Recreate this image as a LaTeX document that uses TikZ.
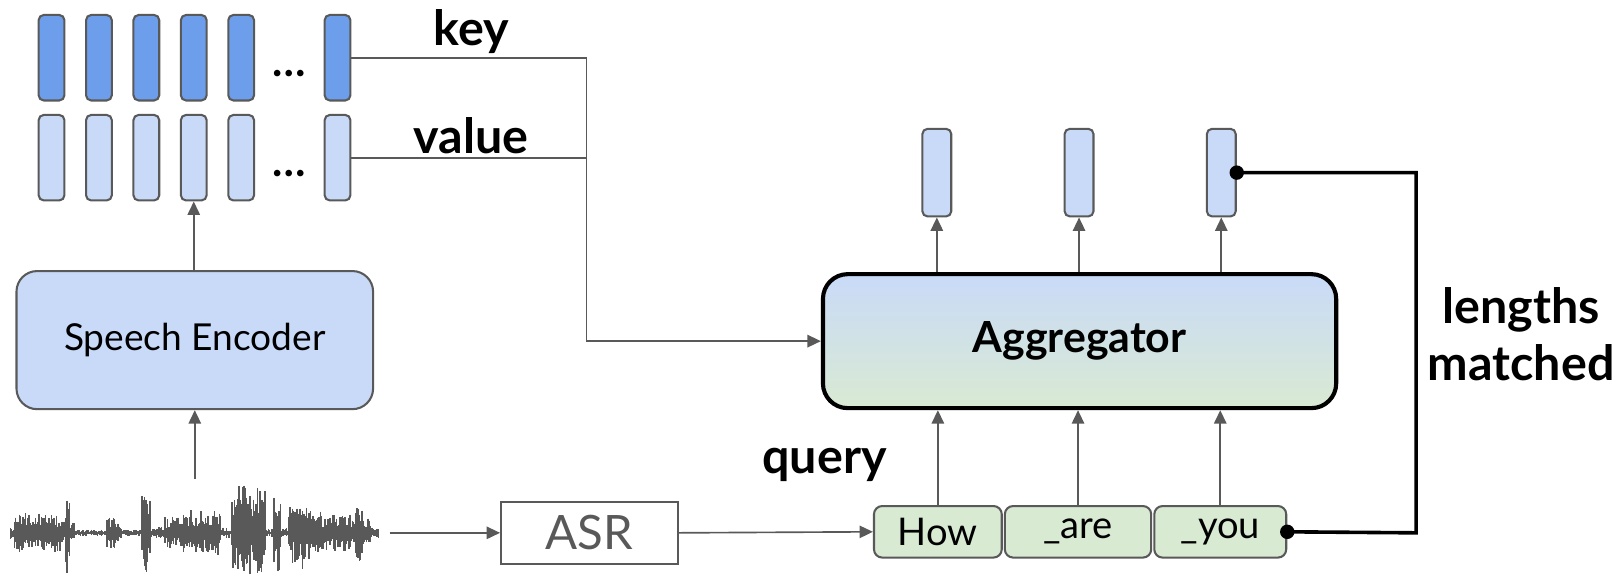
\documentclass[tikz,border=0pt]{standalone}
\usepackage{fontspec}
\setmainfont{Lato}
\usetikzlibrary{arrows.meta}
\definecolor{keyblue}{HTML}{6D9EEB}
\definecolor{valblue}{HTML}{C9DAF8}
\definecolor{tokgreen}{HTML}{D9EAD3}
\definecolor{edgegray}{HTML}{595959}
\begin{document}
\begin{tikzpicture}[x=0.5pt, y=-0.5pt, >={Triangle[length=6.5pt, width=6pt]},
        vec/.style={draw=edgegray, line width=1pt, rounded corners=2.5pt, inner sep=0pt,
                minimum width=12.5pt, minimum height=41.5pt},
        tok/.style={draw=edgegray, fill=tokgreen, line width=1pt, rounded corners=4pt, inner sep=0pt,
                minimum height=25pt, font=\fontsize{18.5}{22}\selectfont},
        lbl/.style={font=\fontsize{23.5}{27.5}\selectfont\bfseries},
        link/.style={draw=edgegray, line width=0.8pt},
        match/.style={draw=black, line width=1.75pt},
        wave/.style={edgegray, line width=0.75pt}]
    \useasboundingbox (0,0) rectangle (1568,558);

    % Encoder outputs: keys and values
    \foreach \i in {1,...,5} {
            \node[vec, fill=keyblue] (k\i) at ({4+46*\i},56) {};
            \node[vec, fill=valblue] (v\i) at ({4+46*\i},153) {};
        }
    \node[vec, fill=keyblue] (k6) at (327.5,56) {};
    \node[vec, fill=valblue] (v6) at (327.5,153) {};
    \node[font=\fontsize{21}{24}\selectfont\bfseries, anchor=base] (kdots) at (281,74) {…};
    \node[font=\fontsize{21}{24}\selectfont\bfseries, anchor=base] (vdots) at (281,171) {…};
    \node[lbl] (keylbl) at (457,31) {key};
    \node[lbl] (vallbl) at (457,132) {value};

    \node[draw=edgegray, fill=valblue, line width=1pt, rounded corners=10pt,
        minimum width=173pt, minimum height=67pt, font=\fontsize{18}{21}\selectfont]
    (enc) at (189,330) {Speech Encoder};

    % Waveform
    \pgfmathsetseed{11}
    \coordinate (wave) at (378,517);
    \foreach \a/\b/\h in {10/14/6, 14/60/20, 60/64/12, 64/68/45, 68/72/10, 72/104/3, 104/112/18,
            112/118/10, 118/138/3, 138/142/50, 142/146/40, 146/160/6, 160/178/16, 178/215/22,
            215/225/5, 225/232/35, 232/240/48, 240/250/40, 250/258/48, 258/266/4, 266/272/38,
            272/280/6, 280/290/30, 290/300/35, 300/312/22, 312/345/18, 345/352/28, 352/360/14,
            360/368/5} {
            \pgfmathsetmacro\s{\a+1.2}
            \foreach \x in {\a,\s,...,\b} {
                    \pgfmathsetmacro\up{\h*(0.3+0.7*rnd)}
                    \pgfmathsetmacro\dn{\h*(0.3+0.7*rnd)}
                    \draw[wave] (\x,{517-\up}) -- (\x,{517+\dn});
                }
        }

    \node[draw=edgegray, line width=0.8pt, minimum width=86pt, minimum height=30pt, inner sep=0pt,
        text=edgegray, font=\fontsize{23}{27}\selectfont] (asr) at (572,517) {ASR};

    % Query tokens
    \node[tok, minimum width=62pt] (t1) at (910,516) {How};
    \node[tok, minimum width=71pt] (t2) at (1046,516) {\_are};
    \node[tok, minimum width=64pt] (t3) at (1184,516) {\_you};
    \node[lbl] (qlbl) at (800,451) {query};

    \node[draw=black, line width=2pt, rounded corners=12pt, top color=valblue, bottom color=tokgreen,
        minimum width=249pt, minimum height=65pt, font=\fontsize{20.8}{24}\selectfont\bfseries]
    (agg) at (1047.5,331) {Aggregator};

    % Aggregator outputs
    \node[vec, fill=valblue, minimum width=14pt, minimum height=42.5pt] (o1) at (909,167.5) {};
    \node[vec, fill=valblue, minimum width=14pt, minimum height=42.5pt] (o2) at (1047,167.5) {};
    \node[vec, fill=valblue, minimum width=14pt, minimum height=42.5pt] (o3) at (1185,167.5) {};

    \node[lbl, align=center] (lenlbl) at (1476,324) {lengths\\matched};

    % Connections
    \coordinate (bus) at (569,331);
    \draw[link, ->] (k6.east) -| (bus) -- (agg.west);
    \draw[link] (v6.east) -- (v6.east -| bus);
    \draw[link, ->] (enc.north -| v4) -- (v4.south);
    \draw[link, ->] (enc.south |- 0,465) -- (enc.south);
    \draw[link, ->] (wave) -- (asr.west);
    \draw[link, ->] (asr.east) -- (t1.west);
    \foreach \i in {1,2,3} {
            \draw[link, ->] (t\i.north) -- (t\i.north |- agg.south);
            \draw[link, ->] (agg.north -| o\i) -- (o\i.south);
        }
    \draw[match] (o3.east) -| (1374,517) -- (t3.east);
    \fill (o3.east) circle (3.5pt);
    \fill (t3.east) circle (3.5pt);
\end{tikzpicture}
\end{document}
